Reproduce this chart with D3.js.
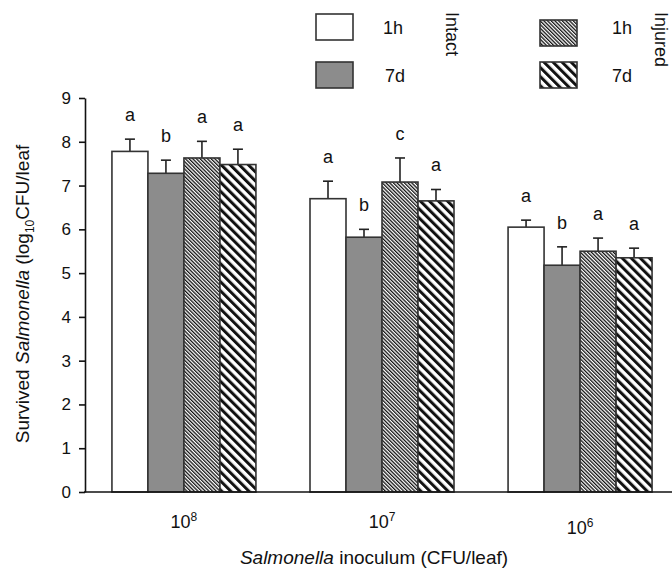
<!DOCTYPE html>
<html>
<head>
<meta charset="utf-8">
<script src="https://cdn.jsdelivr.net/npm/d3@7"></script>
<style>
  body { margin: 0; background: #fff; }
  text { font-family: "Liberation Sans", Arial, sans-serif; fill: #111; }
</style>
</head>
<body>
<svg id="chart"></svg>
<script>
// inoculum levels (exponent of 10)
var groups = ["8", "7", "6"];
var series = ["intact1h", "intact7d", "injured1h", "injured7d"];

// mean survived Salmonella, log10 CFU/leaf
var intact1h  = [7.78, 6.70, 6.05];
var intact7d  = [7.28, 5.82, 5.18];
var injured1h = [7.63, 7.08, 5.50];
var injured7d = [7.48, 6.65, 5.35];

// upper error bars
var intact1hErr  = [0.28, 0.40, 0.16];
var intact7dErr  = [0.30, 0.18, 0.42];
var injured1hErr = [0.38, 0.55, 0.30];
var injured7dErr = [0.35, 0.26, 0.22];

// significance letters
var intact1hLet  = ["a", "a", "a"];
var intact7dLet  = ["b", "b", "b"];
var injured1hLet = ["a", "c", "a"];
var injured7dLet = ["a", "a", "a"];

var yTicks = [0, 1, 2, 3, 4, 5, 6, 7, 8, 9];

var means = {intact1h: intact1h, intact7d: intact7d, injured1h: injured1h, injured7d: injured7d};
var errs = {intact1h: intact1hErr, intact7d: intact7dErr, injured1h: injured1hErr, injured7d: injured7dErr};
var lets = {intact1h: intact1hLet, intact7d: intact7dLet, injured1h: injured1hLet, injured7d: injured7dLet};

var width = 672,
    height = 571;

var svg = d3.select("#chart")
    .attr("width", width)
    .attr("height", height);

// hatch patterns
var defs = svg.append("defs");

function hatch(id, size, lw) {
  var p = defs.append("pattern")
      .attr("id", id)
      .attr("patternUnits", "userSpaceOnUse")
      .attr("width", size)
      .attr("height", size)
      .attr("patternTransform", "rotate(-45)");
  p.append("rect").attr("width", size).attr("height", size).attr("fill", "#fff");
  p.append("rect").attr("x", 0).attr("width", lw).attr("height", size).attr("fill", "#111");
}
hatch("dense", 2.6, 1.3);
hatch("wide", 6.4, 3);

var fills = {
  intact1h: "#fff",
  intact7d: "#8c8c8c",
  injured1h: "url(#dense)",
  injured7d: "url(#wide)"
};

var y = d3.scaleLinear()
    .domain([0, 9])
    .range([492, 98]);

var x0 = d3.scaleBand()
    .domain(groups)
    .range([85, 679])
    .paddingInner(0.273)
    .paddingOuter(0.136);

var x1 = d3.scaleBand()
    .domain(series)
    .range([0, x0.bandwidth()]);

var rows = [];
groups.forEach(function(g, i) {
  series.forEach(function(s) {
    rows.push({group: g, key: s, v: means[s][i], e: errs[s][i], l: lets[s][i]});
  });
});

var bars = svg.append("g");

var eb = bars.selectAll("g.err")
    .data(rows)
  .enter().append("g")
    .attr("class", "err")
    .attr("stroke", "#222")
    .attr("stroke-width", 1.6);

eb.append("line")
    .attr("x1", function(d) { return x0(d.group) + x1(d.key) + x1.bandwidth() / 2; })
    .attr("x2", function(d) { return x0(d.group) + x1(d.key) + x1.bandwidth() / 2; })
    .attr("y1", function(d) { return y(d.v); })
    .attr("y2", function(d) { return y(d.v + d.e); });

eb.append("line")
    .attr("x1", function(d) { return x0(d.group) + x1(d.key) + x1.bandwidth() / 2 - 5; })
    .attr("x2", function(d) { return x0(d.group) + x1(d.key) + x1.bandwidth() / 2 + 5; })
    .attr("y1", function(d) { return y(d.v + d.e); })
    .attr("y2", function(d) { return y(d.v + d.e); });

bars.selectAll("rect")
    .data(rows)
  .enter().append("rect")
    .attr("x", function(d) { return x0(d.group) + x1(d.key); })
    .attr("y", function(d) { return y(d.v); })
    .attr("width", x1.bandwidth())
    .attr("height", function(d) { return y(0) - y(d.v); })
    .attr("fill", function(d) { return fills[d.key]; })
    .attr("stroke", "#333")
    .attr("stroke-width", 1.6);

bars.selectAll("text.let")
    .data(rows)
  .enter().append("text")
    .attr("class", "let")
    .attr("x", function(d) { return x0(d.group) + x1(d.key) + x1.bandwidth() / 2; })
    .attr("y", function(d) { return y(d.v + d.e) - 18; })
    .attr("text-anchor", "middle")
    .style("font-size", "18px")
    .text(function(d) { return d.l; });

// axes
var yAxis = svg.append("g")
    .attr("transform", "translate(85,0)")
    .call(d3.axisLeft(y).tickValues(yTicks).tickSize(6).tickSizeOuter(0).tickPadding(8));
yAxis.selectAll("text").style("font-size", "17px").attr("fill", "#111");
yAxis.selectAll("line, path").attr("stroke", "#111").attr("stroke-width", 1.6);

var xAxis = svg.append("g")
    .attr("transform", "translate(0,492)")
    .call(d3.axisBottom(x0).tickSize(0).tickSizeOuter(0).tickPadding(23));
xAxis.select("path").attr("d", "M84,0H672").attr("stroke", "#111").attr("stroke-width", 1.6);
xAxis.selectAll("text")
    .style("font-size", "18px")
    .attr("fill", "#111")
    .attr("dy", function(d, i) { return i === 2 ? "1.05em" : "0.71em"; })
    .text(null)
    .each(function(d) {
      var t = d3.select(this);
      t.append("tspan").text("10");
      t.append("tspan").attr("dy", "-7").style("font-size", "12px").text(d);
    });

// axis titles
var xt = svg.append("text")
    .attr("x", 374)
    .attr("y", 564)
    .attr("text-anchor", "middle")
    .style("font-size", "19px");
xt.append("tspan").style("font-style", "italic").text("Salmonella");
xt.append("tspan").text(" inoculum (CFU/leaf)");

var yt = svg.append("text")
    .attr("transform", "translate(29,294) rotate(-90)")
    .attr("text-anchor", "middle")
    .style("font-size", "19px");
yt.append("tspan").text("Survived ");
yt.append("tspan").style("font-style", "italic").text("Salmonella");
yt.append("tspan").text(" (log");
yt.append("tspan").attr("dy", "5").style("font-size", "12px").text("10");
yt.append("tspan").attr("dy", "-5").text("CFU/leaf");

// legend
var legend = [
  {key: "intact1h", x: 316, y: 14, tx: 383, ty: 34, label: "1h"},
  {key: "intact7d", x: 316, y: 62, tx: 385, ty: 82, label: "7d"},
  {key: "injured1h", x: 540, y: 20, tx: 612, ty: 34, label: "1h"},
  {key: "injured7d", x: 540, y: 62, tx: 612, ty: 82, label: "7d"}
];
var lg = svg.append("g").selectAll("g")
    .data(legend)
  .enter().append("g");
lg.append("rect")
    .attr("x", function(d) { return d.x; })
    .attr("y", function(d) { return d.y; })
    .attr("width", 37)
    .attr("height", 26)
    .attr("fill", function(d) { return fills[d.key]; })
    .attr("stroke", "#333")
    .attr("stroke-width", 1.6);
lg.append("text")
    .attr("x", function(d) { return d.tx; })
    .attr("y", function(d) { return d.ty; })
    .style("font-size", "18px")
    .text(function(d) { return d.label; });

svg.append("text")
    .attr("transform", "translate(446,12) rotate(90)")
    .style("font-size", "18px")
    .text("Intact");
svg.append("text")
    .attr("transform", "translate(655,12) rotate(90)")
    .style("font-size", "18px")
    .text("Injured");
</script>
</body>
</html>
